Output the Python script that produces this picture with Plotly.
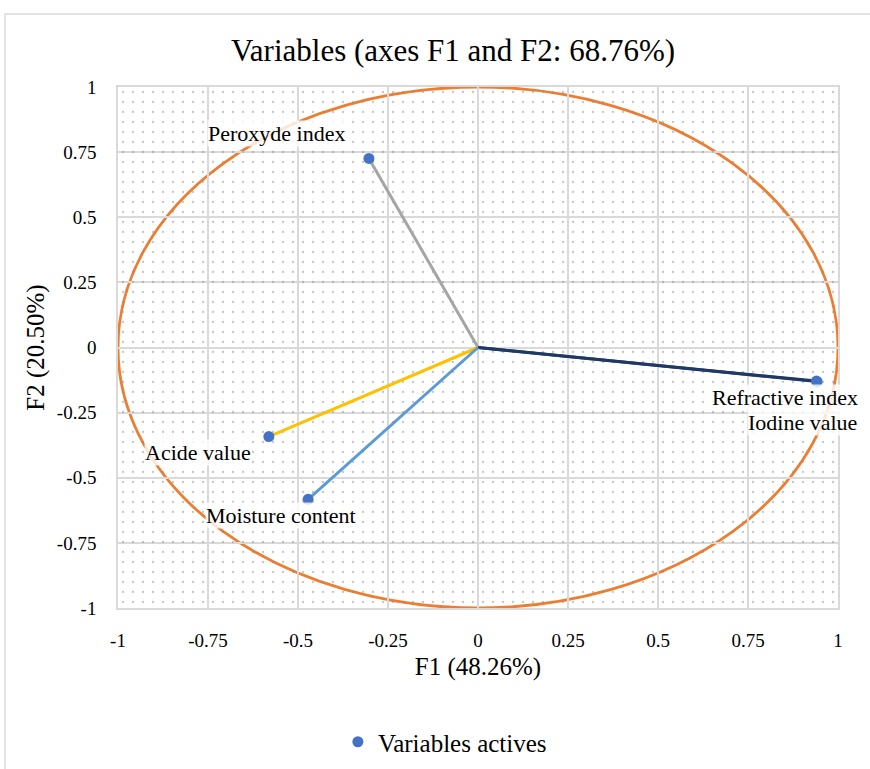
import plotly.graph_objects as go

# Correlation circle: loadings of each variable on F1 and F2
variables = ["Peroxyde index", "Refractive index", "Iodine value", "Acide value", "Moisture content"]
f1 = [-0.303, 0.942, 0.940, -0.581, -0.472]
f2 = [0.726, -0.131, -0.129, -0.342, -0.583]
line_colors = ["#A5A5A5", "#264478", "#1F3864", "#FFC000", "#5B9BD5"]

tick_vals = [-1, -0.75, -0.5, -0.25, 0, 0.25, 0.5, 0.75, 1]
tick_text = ["-1", "-0.75", "-0.5", "-0.25", "0", "0.25", "0.5", "0.75", "1"]

SERIF = "Liberation Serif"

fig = go.Figure()

# dotted plot-area background
fig.add_trace(go.Scatter(
    x=[-1, 1, 1, -1, -1], y=[-1, -1, 1, 1, -1],
    mode="lines", line=dict(width=0), fill="toself",
    fillcolor="rgba(0,0,0,0)",
    fillpattern=dict(shape=".", size=10, solidity=0.04, fgcolor="#8a8a8a",
                     bgcolor="rgba(0,0,0,0)"),
    hoverinfo="skip", showlegend=False,
))

# vectors from the origin
for name, x, y, c in zip(variables, f1, f2, line_colors):
    fig.add_trace(go.Scatter(
        x=[0, x], y=[0, y], mode="lines",
        line=dict(color=c, width=3),
        hoverinfo="skip", showlegend=False,
    ))

# variable points
fig.add_trace(go.Scatter(
    x=f1, y=f2, mode="markers", name="Variables actives",
    marker=dict(color="#4472C4", size=11),
    text=variables, hovertemplate="%{text}<br>F1=%{x}<br>F2=%{y}<extra></extra>",
))

# point labels (offsets in px)
label_pos = {
    "Peroxyde index": dict(xanchor="right", xshift=-23, yshift=25),
    "Refractive index": dict(xanchor="right", xshift=42, yshift=-16),
    "Iodine value": dict(xanchor="right", xshift=42, yshift=-41),
    "Acide value": dict(xanchor="right", xshift=-17, yshift=-16),
    "Moisture content": dict(xanchor="center", xshift=-27, yshift=-16),
}
for name, x, y in zip(variables, f1, f2):
    fig.add_annotation(
        x=x, y=y, text=name, showarrow=False,
        font=dict(family=SERIF, size=22, color="#000000"),
        bgcolor="rgba(255,255,255,0.8)", borderpad=0,
        yanchor="middle", **label_pos[name],
    )

# unit correlation circle
fig.add_shape(type="circle", xref="x", yref="y", x0=-1, y0=-1, x1=1, y1=1,
              line=dict(color="#ED7D31", width=2.8), layer="below")

# outer chart frame
fig.add_shape(type="rect", xref="paper", yref="paper",
              x0=-0.157, y0=-0.33, x1=1.07, y1=1.140,
              line=dict(color="#D9D9D9", width=1.5), fillcolor="rgba(0,0,0,0)")

axis_common = dict(
    tickvals=tick_vals, ticktext=tick_text,
    showgrid=True, gridcolor="#D9D9D9", gridwidth=1.5,
    zeroline=True, zerolinecolor="#D9D9D9", zerolinewidth=1.5,
    showline=True, linecolor="#D9D9D9", linewidth=1.5, mirror=True,
    ticks="", tickfont=dict(family=SERIF, size=19, color="#000000"),
)

fig.update_layout(
    width=870, height=769,
    margin=dict(l=118, r=32, t=87, b=161),
    paper_bgcolor="white", plot_bgcolor="white",
    title=dict(text="Variables (axes F1 and F2: 68.76%)",
               font=dict(family=SERIF, size=31, color="#000000"),
               x=453 / 870, xanchor="center", xref="container",
               y=1 - 50 / 769, yanchor="middle", yref="container"),
    xaxis=dict(range=[-1, 1], title=dict(text="F1 (48.26%)", standoff=8,
               font=dict(family=SERIF, size=25, color="#000000")),
               ticklabelstandoff=14, **axis_common),
    yaxis=dict(range=[-1, 1], title=dict(text="F2 (20.50%)", standoff=5,
               font=dict(family=SERIF, size=25, color="#000000")),
               ticklabelstandoff=16, **axis_common),
    legend=dict(orientation="h", x=0.454, xanchor="center",
                y=1 - 742 / 769, yanchor="middle", yref="container",
                font=dict(family=SERIF, size=25, color="#000000"), itemwidth=30),
    showlegend=True,
)

fig.write_html("out.html")
